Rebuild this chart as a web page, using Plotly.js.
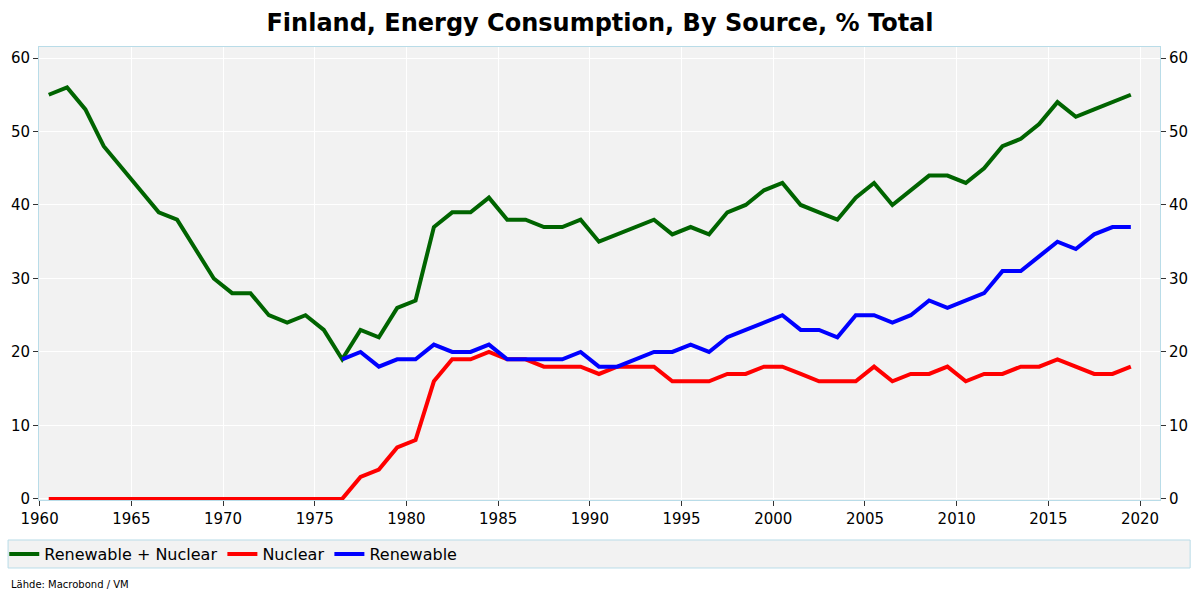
<!DOCTYPE html>
<html>
<head>
<meta charset="utf-8">
<script src="https://cdn.plot.ly/plotly-3.0.1.min.js"></script>
<style>html,body{margin:0;padding:0;background:#fff;}#chart{width:1200px;height:600px;}</style>
</head>
<body>
<div id="chart"></div>
<script>
const years = [];
for (let y = 1960; y <= 2019; y++) years.push(y + '-07-01');

const renewableNuclear = [55,56,53,48,45,42,39,38,34,30,28,28,25,24,25,23,19,23,22,26,27,37,39,39,41,38,38,37,37,38,35,36,37,38,36,37,36,39,40,42,43,40,39,38,41,43,40,42,44,44,43,45,48,49,51,54,52,53,54,55];
const nuclear = [0,0,0,0,0,0,0,0,0,0,0,0,0,0,0,0,0,3,4,7,8,16,19,19,20,19,19,18,18,18,17,18,18,18,16,16,16,17,17,18,18,17,16,16,16,18,16,17,17,18,16,17,17,18,18,19,18,17,17,18];
const renewable = [null,null,null,null,null,null,null,null,null,null,null,null,null,null,null,null,19,20,18,19,19,21,20,20,21,19,19,19,19,20,18,18,19,20,20,21,20,22,23,24,25,23,23,22,25,25,24,25,27,26,27,28,31,31,33,35,34,36,37,37];

const seriesNames = ['Renewable + Nuclear', 'Nuclear', 'Renewable'];
const seriesColors = ['#006400', '#ff0000', '#0000ff'];
const yTicks = [0,10,20,30,40,50,60];

const font = 'DejaVu Sans, Verdana, sans-serif';
const frame = '#b9dce8';

const traces = [renewableNuclear, nuclear, renewable].map((vals, i) => ({
  x: years, y: vals, type: 'scatter', mode: 'lines', name: seriesNames[i],
  line: {color: seriesColors[i], width: 4}, connectgaps: false
}));
traces.push({x: years, y: renewableNuclear, yaxis: 'y2', type: 'scatter', mode: 'lines',
  line: {width: 0, color: 'rgba(0,0,0,0)'}, showlegend: false, hoverinfo: 'skip'});

const layout = {
  width: 1200, height: 600,
  paper_bgcolor: '#ffffff', plot_bgcolor: '#f2f2f2',
  margin: {l: 39, r: 40, t: 47, b: 100, autoexpand: false},
  title: {text: 'Finland, Energy Consumption, By Source, % Total',
    font: {family: 'DejaVu Sans, sans-serif', size: 24, color: '#000', weight: 'bold'},
    x: 0.5, xanchor: 'center', y: 0.962, yanchor: 'middle'},
  xaxis: {type: 'date', range: ['1959-12-20', '2021-02-01'],
    tickvals: ['1960-01-01','1965-01-01','1970-01-01','1975-01-01','1980-01-01','1985-01-01','1990-01-01','1995-01-01','2000-01-01','2005-01-01','2010-01-01','2015-01-01','2020-01-01'],
    ticktext: ['1960','1965','1970','1975','1980','1985','1990','1995','2000','2005','2010','2015','2020'],
    showgrid: true, gridcolor: '#ffffff', gridwidth: 1,
    ticks: 'outside', ticklen: 5, tickcolor: '#333', tickwidth: 1,
    showline: true, linecolor: frame, linewidth: 1, mirror: true,
    zeroline: false,
    tickfont: {family: font, size: 15, color: '#000'}},
  yaxis: {range: [-0.15, 61.5], tickvals: yTicks,
    showgrid: true, gridcolor: '#ffffff', gridwidth: 1, zeroline: false,
    ticks: 'outside', ticklen: 5, tickcolor: '#333',
    showline: true, linecolor: frame, linewidth: 1, mirror: true,
    tickfont: {family: font, size: 15, color: '#000'}},
  yaxis2: {range: [-0.15, 61.5], tickvals: yTicks, overlaying: 'y', side: 'right',
    showgrid: false, zeroline: false, ticks: 'outside', ticklen: 5, tickcolor: '#333',
    tickfont: {family: font, size: 15, color: '#000'}},
  showlegend: true,
  legend: {orientation: 'h', x: -0.031, xanchor: 'left', y: -0.1192, yanchor: 'middle',
    bgcolor: 'rgba(0,0,0,0)', borderwidth: 0, font: {family: font, size: 16, color: '#000'},
    itemwidth: 30, tracegroupgap: 0},
  shapes: [{type: 'rect', xref: 'paper', yref: 'paper',
    x0: -0.0276, x1: 1.0269, y0: -0.1501, y1: -0.0883,
    line: {color: frame, width: 1}, fillcolor: '#f2f2f2', layer: 'below'}],
  annotations: [{text: 'Lähde: Macrobond / VM', xref: 'paper', yref: 'paper',
    x: -0.027, y: -0.186, xanchor: 'left', yanchor: 'middle', showarrow: false,
    font: {family: font, size: 10, color: '#000'}}]
};

Plotly.newPlot('chart', traces, layout, {displayModeBar: false, staticPlot: true});
</script>
</body>
</html>
